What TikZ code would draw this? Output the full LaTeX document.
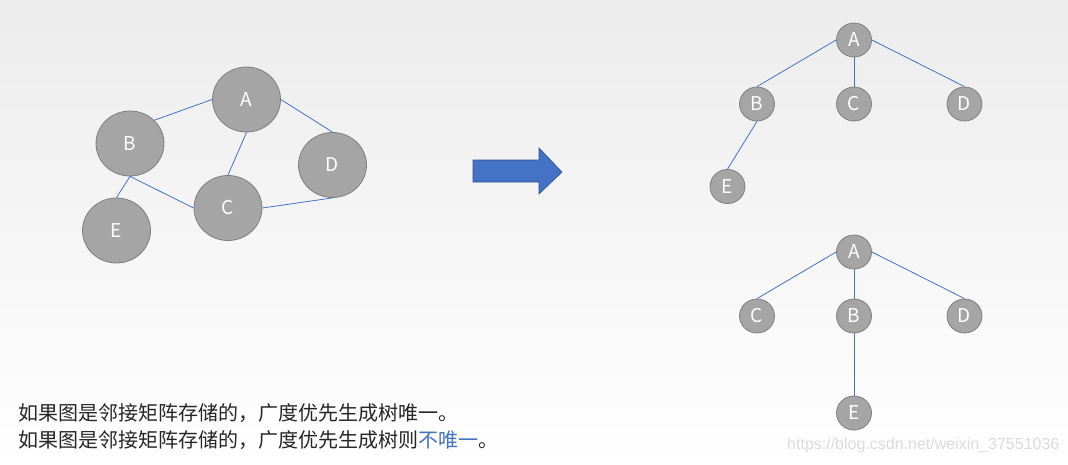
\documentclass[tikz,border=0pt]{standalone}
\usepackage{fontspec}
\newfontfamily\cjk{Noto Sans CJK SC}
\newfontfamily\wmfont{Liberation Sans}
\usetikzlibrary{shapes.geometric}
\definecolor{nodefill}{HTML}{A5A5A5}
\definecolor{nodeedge}{HTML}{7F7F7F}
\definecolor{edgeblue}{HTML}{4472C4}
\definecolor{arrowedge}{HTML}{2F528F}
\definecolor{bgtop}{HTML}{ECECEC}
\definecolor{txt}{HTML}{262626}
\definecolor{wmcol}{HTML}{DCDCDC}
\begin{document}
\begin{tikzpicture}[x=1pt,y=-1pt,
  bignode/.style={ellipse,draw=nodeedge,fill=nodefill,text=white,line width=0.8pt,
    inner sep=0pt,minimum width=68pt,minimum height=65pt,
    font=\cjk\fontsize{19}{19}\selectfont},
  treenode/.style={ellipse,draw=nodeedge,fill=nodefill,text=white,line width=0.8pt,
    inner sep=0pt,minimum width=35pt,minimum height=34pt,
    font=\cjk\fontsize{19}{19}\selectfont},
  link/.style={draw=edgeblue,line width=0.8pt},
  label/.style={anchor=base west,inner sep=0pt,text=txt,font=\cjk\fontsize{20}{20}\selectfont}]
\useasboundingbox (0,0) rectangle (1068,464);
\shade[top color=bgtop,bottom color=white] (0,0) rectangle (1068,464);

% left graph
\node[bignode] (gA) at (246.5,99.5) {A};
\node[bignode] (gB) at (130,143.5) {B};
\node[bignode] (gD) at (332.5,165) {D};
\node[bignode] (gC) at (228,208) {C};
\node[bignode] (gE) at (116.5,230.5) {E};
\draw[link] (gB.north east) -- (gA.west);
\draw[link] (gA.south) -- (gC.north);
\draw[link] (gA.east) -- (gD.north);
\draw[link] (gB.south) -- (gE.north);
\draw[link] (gB.south) -- (gC.west);
\draw[link] (gC.east) -- (gD.south);

% arrow
\draw[fill=edgeblue,draw=arrowedge,line width=0.6pt]
  (473,160) -- (539,160) -- (539,148) -- (562,172) -- (539,194) -- (539,182) -- (473,182) -- cycle;

% top tree
\node[treenode] (tA) at (854,40) {A};
\node[treenode] (tB) at (757,104) {B};
\node[treenode] (tC) at (854,104) {C};
\node[treenode] (tD) at (964.5,104) {D};
\node[treenode] (tE) at (727.5,186.5) {E};
\draw[link] (tA.west) -- (tB.north);
\draw[link] (tA.south) -- (tC.north);
\draw[link] (tA.east) -- (tD.north);
\draw[link] (tB.south) -- (tE.north);

% bottom tree
\node[treenode] (uA) at (854,252) {A};
\node[treenode] (uC) at (757,316) {C};
\node[treenode] (uB) at (854,316) {B};
\node[treenode] (uD) at (964.5,316) {D};
\node[treenode] (uE) at (854,413) {E};
\draw[link] (uA.west) -- (uC.north);
\draw[link] (uA.south) -- (uB.north);
\draw[link] (uA.east) -- (uD.north);
\draw[link] (uB.south) -- (uE.north);

% text
\node[label] (line1) at (18,420) {如果图是邻接矩阵存储的，广度优先生成树唯一。};
\node[label] (line2) at (18,447) {如果图是邻接矩阵存储的，广度优先生成树则\textcolor{edgeblue}{不唯一}。};
\node[anchor=base west,inner sep=0pt,text=wmcol,font=\wmfont\fontsize{16}{16}\selectfont] (wm) at (787,449) {https://blog.csdn.net/weixin\_37551036};
\end{tikzpicture}
\end{document}
